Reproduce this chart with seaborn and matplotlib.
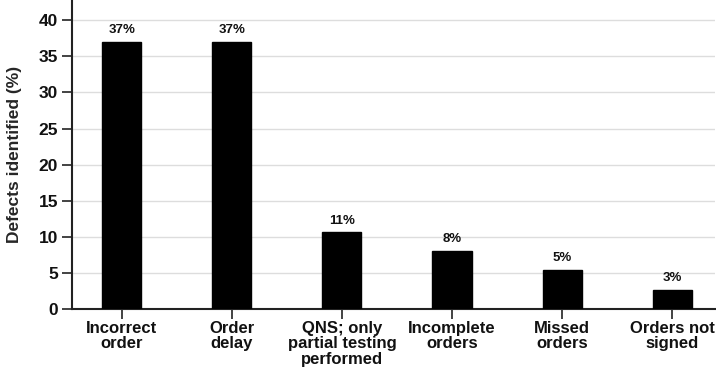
import matplotlib
matplotlib.use("Agg")
import matplotlib.pyplot as plt
import seaborn as sns
import pandas as pd

categories = ["Incorrect\norder", "Order\ndelay", "QNS; only\npartial testing\nperformed",
              "Incomplete\norders", "Missed\norders", "Orders not\nsigned"]
values = [37.0, 37.0, 10.6, 8.0, 5.4, 2.7]
value_labels = ["37%", "37%", "11%", "8%", "5%", "3%"]
yticks = [0, 5, 10, 15, 20, 25, 30, 35, 40]

sns.set_theme(style="white")
plt.rcParams['font.family'] = ['Liberation Sans', 'DejaVu Sans']

df = pd.DataFrame({"cat": categories, "val": values})

fig = plt.figure(figsize=(7.16, 3.69), dpi=100)
ax = fig.add_axes([0.1006, 0.1626, 0.8984, 0.8374])
sns.barplot(data=df, x="cat", y="val", color="black", width=0.355, ax=ax,
            saturation=1, edgecolor="black", zorder=3)

for i, (v, lab) in enumerate(zip(values, value_labels)):
    ax.text(i, v + 0.8, lab, ha="center", va="bottom", fontsize=9.5,
            fontweight="bold", color="#111111")

ax.set_ylim(0, 42.8)
ax.set_xlim(-0.45, 5.39)
ax.set_yticks(yticks)
ax.yaxis.grid(True, color="#dddddd", linewidth=1, zorder=0)
ax.set_axisbelow(True)
ax.set_xlabel("")
ax.set_ylabel("Defects identified (%)", fontsize=12.5, fontweight="bold", labelpad=12)
for s in ["top", "right"]:
    ax.spines[s].set_visible(False)
for s in ["left", "bottom"]:
    ax.spines[s].set_color("#222222")
    ax.spines[s].set_linewidth(1.5)
ax.tick_params(axis="y", which="major", length=7, width=1.2, color="#222222",
               direction="out", left=True, labelsize=12.5, pad=3)
ax.tick_params(axis="x", which="major", length=7, width=1.2, color="#222222",
               direction="out", bottom=True, labelsize=12, pad=1.5)
for t in ax.get_xticklabels() + ax.get_yticklabels():
    t.set_fontweight("bold")
    t.set_color("#111111")
for t in ax.get_xticklabels():
    t.set_linespacing(1.05)

fig.savefig("out.png", dpi=100)
